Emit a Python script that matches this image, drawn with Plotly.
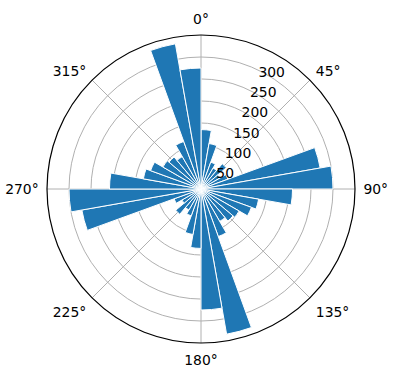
import plotly.graph_objects as go

# Bin centers (compass degrees, clockwise from north), 10° bins
bin_centers = [5 + 10 * i for i in range(36)]
# Counts per bin (0-180 half, mirrored into 180-360)
half_counts = [135, 105, 65, 55, 75, 50, 65, 275, 300,
               208, 133, 122, 100, 95, 85, 115, 335, 275]
counts = half_counts + half_counts
radial_ticks = [50, 100, 150, 200, 250, 300]
angle_ticks = [0, 45, 90, 135, 180, 225, 270, 315]
angle_labels = [f"{a}°" for a in angle_ticks]

fig = go.Figure()
fig.add_trace(go.Barpolar(
    r=counts,
    theta=bin_centers,
    width=[10] * len(bin_centers),
    marker=dict(color="#1f77b4", line=dict(color="white", width=1)),
    opacity=1,
))

font = dict(family="DejaVu Sans", size=13.9, color="black")
fig.update_layout(
    width=396, height=380,
    margin=dict(l=47, r=41, t=35, b=37),
    paper_bgcolor="white",
    showlegend=False,
    font=font,
    polar=dict(
        bgcolor="white",
        bargap=0,
        domain=dict(x=[0, 1], y=[0, 1]),
        angularaxis=dict(
            direction="clockwise", rotation=90,
            tickvals=angle_ticks, ticktext=angle_labels,
            showline=True, linecolor="black", linewidth=1.2,
            gridcolor="#b0b0b0", gridwidth=1,
            ticks="outside", ticklen=5, tickcolor="rgba(0,0,0,0)",
            tickfont=font,
        ),
        radialaxis=dict(
            range=[0, 350], tickvals=radial_ticks,
            angle=67.5, tickangle=67.5,
            showline=False, ticks="",
            gridcolor="#b0b0b0", gridwidth=1,
            tickfont=font,
        ),
    ),
)
fig.write_html("out.html")
